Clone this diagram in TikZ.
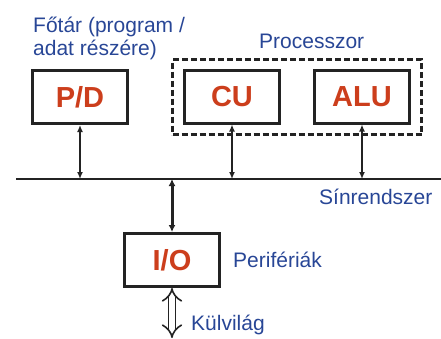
\documentclass[tikz,border=0pt]{standalone}
\usepackage{fontspec}
\setmainfont{Liberation Sans}
\usetikzlibrary{arrows.meta}
\definecolor{lblblue}{RGB}{40,70,150}
\definecolor{boxred}{RGB}{204,62,28}
\definecolor{edge}{RGB}{35,35,35}
\tikzset{
  unitbox/.style={draw=edge, line width=3pt, minimum width=95pt, minimum height=53pt, inner sep=0pt,
    font=\fontsize{29}{32}\selectfont\bfseries, text=boxred},
  lbl/.style={font=\fontsize{21}{24}\selectfont, text=lblblue, inner sep=0pt, anchor=base west},
  thinarr/.style={draw=edge, line width=1.7pt, {Latex[length=7pt,width=6pt]}-{Latex[length=7pt,width=6pt]}},
  thickarr/.style={draw=edge, line width=3pt, {Latex[length=7pt,width=7pt]}-{Latex[length=7pt,width=7pt]}},
}
\begin{document}
\begin{tikzpicture}[x=1pt,y=-1pt]
\useasboundingbox (0,0) rectangle (441,338);
% dashed processor frame
\node[draw=edge, dashed, dash pattern=on 6pt off 3pt, line width=2.2pt, minimum width=249pt, minimum height=75pt, inner sep=0pt] (proc) at (297,97) {};
\node[unitbox] (pd) at (80,97) {P/D};
\node[unitbox] (cu) at (232,96.5) {CU};
\node[unitbox] (alu) at (362,96.5) {ALU};
\node[unitbox] (io) at (172,260) {I/O};
% bus
\coordinate (busL) at (16,179);
\coordinate (busR) at (441,179);
\draw[draw=edge, line width=2.5pt] (busL) -- (busR);
% connectors
\draw[thinarr] (pd.south) -- (pd.south |- busL);
\draw[thinarr] (cu.south) -- (cu.south |- busL);
\draw[thinarr] (alu.south) -- (alu.south |- busL);
\draw[thickarr] (io.north |- busL) -- (io.north);
\coordinate (ext) at (172,338);
\draw[draw=edge, line width=1.6pt, double=white, double distance=5.5pt, {Implies[length=8pt]}-{Implies[length=8pt]}] (io.south) -- (ext);
% labels
\node[lbl] (ft1) at (33,32) {Főtár (program /};
\node[lbl] (ft2) at (33,55.5) {adat részére)};
\node[lbl] (procl) at (259,48) {Processzor};
\node[lbl] (busl) at (319,204) {Sínrendszer};
\node[lbl] (perl) at (233,267) {Perifériák};
\node[lbl] (kul) at (191,330) {Külvilág};
\end{tikzpicture}
\end{document}
